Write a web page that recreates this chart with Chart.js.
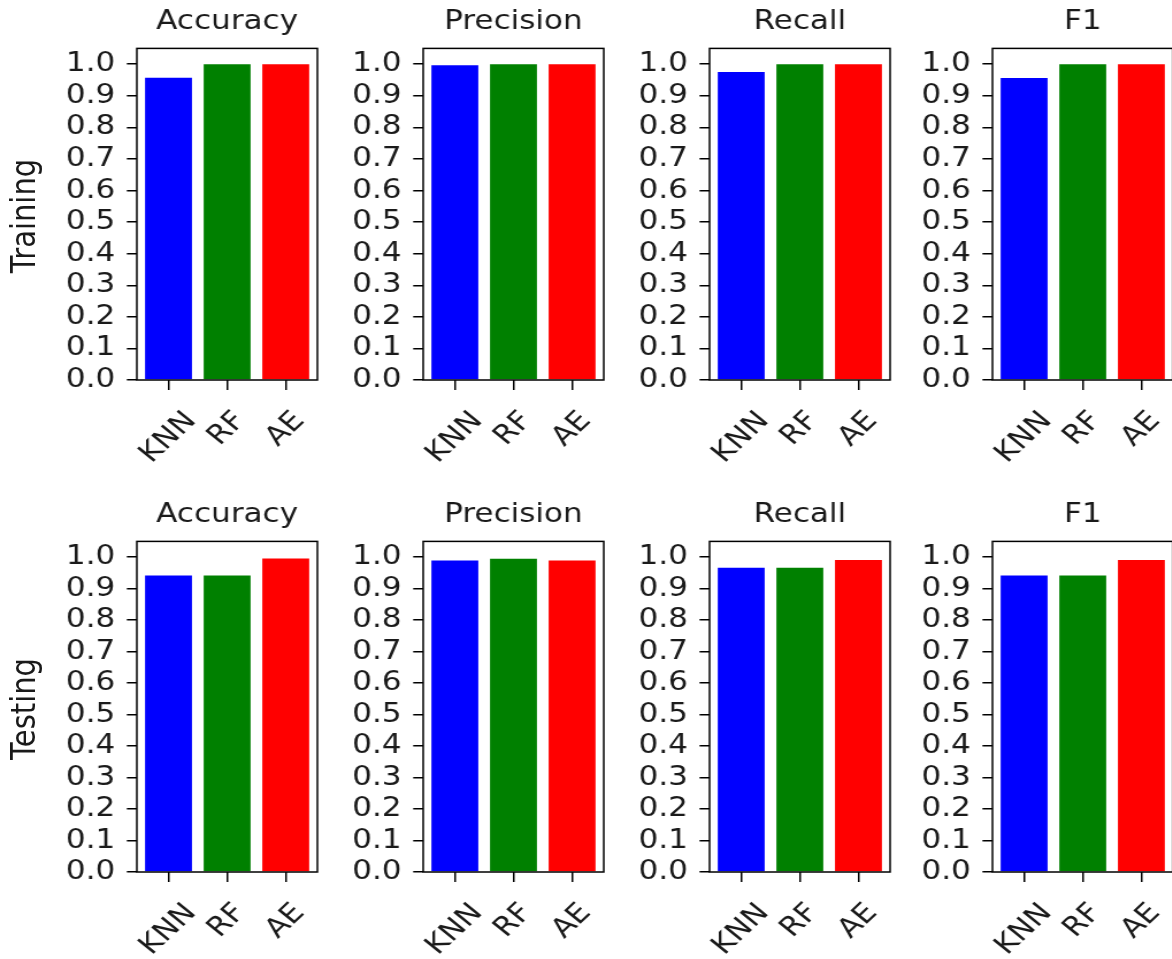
<!DOCTYPE html>
<html>
<head>
<meta charset="utf-8">
<script src="https://cdn.jsdelivr.net/npm/chart.js@4.4.0/dist/chart.umd.min.js"></script>
<style>
  html, body { margin: 0; padding: 0; background: #fff; overflow: hidden; width: 1172px; height: 959px; }
  #stage { position: absolute; left: 0; top: 0; width: 1020px; height: 959px; overflow: hidden;
           transform-origin: 0 0; transform: scaleX(1.15); }
  #stage canvas { position: absolute; }
  .rowlabel { position: absolute; font-family: 'DejaVu Sans', sans-serif; font-size: 29px; line-height: 1;
              color: #1a1a1a; white-space: nowrap; transform: translate(-50%, -50%) rotate(-90deg); }
</style>
</head>
<body>
<div id="stage"></div>
<script>
// data
const models = ['KNN', 'RF', 'AE'];
const barColors = ['#0000ff', '#008000', '#ff0000'];
const metrics = ['Accuracy', 'Precision', 'Recall', 'F1'];
const splits = ['Training', 'Testing'];
const yTickLabels = ['0.0', '0.1', '0.2', '0.3', '0.4', '0.5', '0.6', '0.7', '0.8', '0.9', '1.0'];

const trainingAccuracy  = [0.957, 1.000, 1.000];
const trainingPrecision = [0.997, 1.000, 1.000];
const trainingRecall    = [0.975, 1.000, 1.000];
const trainingF1        = [0.956, 1.000, 1.000];

const testingAccuracy   = [0.942, 0.942, 0.996];
const testingPrecision  = [0.989, 0.995, 0.989];
const testingRecall     = [0.966, 0.966, 0.991];
const testingF1         = [0.942, 0.942, 0.991];

const panelValues = [
  [trainingAccuracy, trainingPrecision, trainingRecall, trainingF1],
  [testingAccuracy, testingPrecision, testingRecall, testingF1]
];

// layout (page pixels); the stage is stretched horizontally by S
const S = 1.15;
const FONT_SIZE = 27;
const TEXT_COLOR = '#1a1a1a';
const Y_AXIS_W = 72;
const X_AXIS_H = 95;
const TITLE_PAD = 10;
const TITLE_H = FONT_SIZE * 1.2 + TITLE_PAD;
const AX_W = 181;
const COL_LEFT = [137, 423, 709, 993];
const ROW_TOP = [48, 541];
const ROW_BOTTOM = [380, 872];
const LABEL_GAP = 30;
const LABEL_ANGLE = 47; // looks ~44deg after the horizontal stretch

Chart.defaults.font.family = "'DejaVu Sans', sans-serif";
Chart.defaults.color = TEXT_COLOR;

const axesFrame = {
  id: 'axesFrame',
  afterDraw(chart) {
    const { ctx, chartArea: a } = chart;
    ctx.save();
    ctx.strokeStyle = '#000';
    ctx.lineWidth = 1.5;
    ctx.strokeRect(a.left, a.top, a.right - a.left, a.bottom - a.top);
    ctx.restore();
  }
};

// matplotlib style: rotated label centred under its tick
const centeredTickLabels = {
  id: 'centeredTickLabels',
  afterDraw(chart) {
    const ctx = chart.ctx;
    const xs = chart.scales.x;
    const rad = LABEL_ANGLE * Math.PI / 180;
    ctx.save();
    ctx.font = FONT_SIZE + "px 'DejaVu Sans'";
    ctx.fillStyle = TEXT_COLOR;
    ctx.textAlign = 'center';
    ctx.textBaseline = 'middle';
    models.forEach((name, i) => {
      const w = ctx.measureText(name).width;
      const half = (w * Math.sin(rad) + 0.7 * FONT_SIZE * Math.cos(rad)) / 2;
      ctx.save();
      ctx.translate(xs.getPixelForValue(i), chart.chartArea.bottom + LABEL_GAP + half);
      ctx.rotate(-rad);
      ctx.fillText(name, 0, 0);
      ctx.restore();
    });
    ctx.restore();
  }
};

const stage = document.getElementById('stage');

splits.forEach((split, r) => {
  const lbl = document.createElement('div');
  lbl.className = 'rowlabel';
  lbl.textContent = split;
  lbl.style.left = (24 / S) + 'px';
  lbl.style.top = ((ROW_TOP[r] + ROW_BOTTOM[r]) / 2 + 2) + 'px';
  stage.appendChild(lbl);

  metrics.forEach((metric, c) => {
    const canvas = document.createElement('canvas');
    const axW = Math.round(AX_W / S);
    canvas.width = Y_AXIS_W + axW + 2;
    canvas.height = Math.round(TITLE_H + (ROW_BOTTOM[r] - ROW_TOP[r]) + X_AXIS_H);
    canvas.style.left = (COL_LEFT[c] / S - Y_AXIS_W) + 'px';
    canvas.style.top = (ROW_TOP[r] - TITLE_H) + 'px';
    stage.appendChild(canvas);

    const values = panelValues[r][c];

    new Chart(canvas, {
      type: 'bar',
      data: {
        datasets: [{
          data: values.map((v, i) => ({ x: i, y: v })),
          backgroundColor: barColors,
          borderWidth: 0,
          barPercentage: 0.8,
          categoryPercentage: 1
        }]
      },
      options: {
        responsive: false,
        animation: false,
        layout: { padding: { left: 0, right: 2, top: 0, bottom: 0 } },
        plugins: {
          legend: { display: false },
          tooltip: { enabled: false },
          title: {
            display: true,
            text: metric,
            fullSize: false,
            color: TEXT_COLOR,
            font: { size: FONT_SIZE, weight: 'normal' },
            padding: { top: 0, bottom: TITLE_PAD }
          }
        },
        scales: {
          x: {
            type: 'linear',
            min: -0.54,
            max: 2.54,
            offset: false,
            afterFit: s => { s.height = X_AXIS_H; },
            border: { display: false },
            grid: { offset: false, drawOnChartArea: false, drawTicks: true, tickLength: 10, color: '#000', lineWidth: 1.5 },
            ticks: { display: false, stepSize: 1, includeBounds: false }
          },
          y: {
            min: 0,
            max: 1.05,
            afterFit: s => { s.width = Y_AXIS_W; },
            border: { display: false },
            grid: { drawOnChartArea: false, drawTicks: true, tickLength: 8.7, color: '#000', lineWidth: 1.5 },
            ticks: {
              stepSize: 0.1,
              includeBounds: false,
              autoSkip: false,
              padding: 10,
              color: TEXT_COLOR,
              font: { size: FONT_SIZE },
              callback: (v, i) => yTickLabels[i]
            }
          }
        }
      },
      plugins: [axesFrame, centeredTickLabels]
    });
  });
});
</script>
</body>
</html>
